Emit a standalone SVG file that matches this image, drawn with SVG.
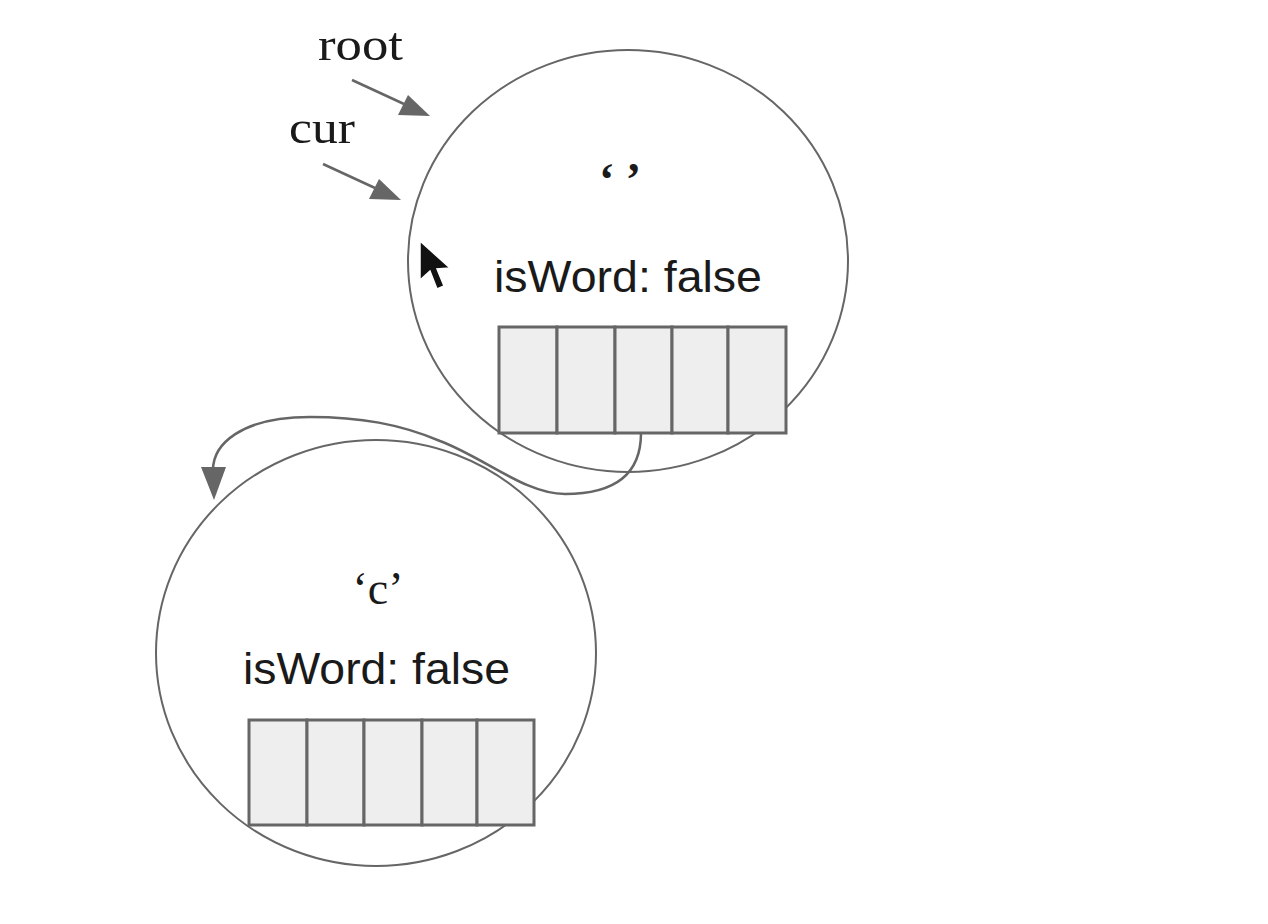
<svg xmlns="http://www.w3.org/2000/svg" width="1268" height="924" viewBox="0 0 1268 924">
<style>
.circ{fill:#fff;stroke:#666;stroke-width:2}
.cell{fill:#eeeeee;stroke:#666;stroke-width:3}
.sans{font-family:"Liberation Sans",Arial,sans-serif;font-size:44px;fill:#1a1a1a}
.serif{font-family:"Liberation Serif","Times New Roman",serif;font-size:46px;fill:#1a1a1a}
.conn{fill:none;stroke:#666;stroke-width:2.5}
</style>
<rect width="1268" height="924" fill="#fff"/>
<g id="node-root">
<ellipse class="circ" cx="628" cy="261" rx="220" ry="211"/>
<text class="serif" x="620" y="195" text-anchor="middle" font-weight="bold">‘ ’</text>
<text class="sans" x="494" y="292" textLength="268" lengthAdjust="spacingAndGlyphs">isWord: false</text>
<rect class="cell" x="499" y="327" width="58" height="106"/>
<rect class="cell" x="557" y="327" width="58" height="106"/>
<rect class="cell" x="615" y="327" width="57" height="106"/>
<rect class="cell" x="672" y="327" width="56" height="106"/>
<rect class="cell" x="728" y="327" width="58" height="106"/>
</g>
<g id="node-c">
<ellipse class="circ" cx="376" cy="653" rx="220" ry="213"/>
<text class="serif" x="378" y="604" text-anchor="middle" font-size="50">‘c’</text>
<text class="sans" x="243" y="684" textLength="267" lengthAdjust="spacingAndGlyphs">isWord: false</text>
<rect class="cell" x="249" y="720" width="58" height="105"/>
<rect class="cell" x="307" y="720" width="57" height="105"/>
<rect class="cell" x="364" y="720" width="58" height="105"/>
<rect class="cell" x="422" y="720" width="55" height="105"/>
<rect class="cell" x="477" y="720" width="57" height="105"/>
</g>
<g id="labels">
<text class="serif" x="318" y="60" textLength="85" lengthAdjust="spacingAndGlyphs">root</text>
<text class="serif" x="289" y="143" textLength="66" lengthAdjust="spacingAndGlyphs">cur</text>
</g>
<g id="connectors">
<line x1="352" y1="80" x2="404" y2="104" class="conn"/>
<path d="M430,116 L398,115 L408,95 z" fill="#666"/>
<line x1="323" y1="164" x2="375" y2="188" class="conn"/>
<path d="M401,200 L369,199 L379,179 z" fill="#666"/>
<path class="conn" d="M641,433 C641,478 610,494 565,494 C525,494 485,458 440,441 C400,424 360,417 310,417 C240,417 213,445 213,470"/>
<path d="M201,467 L226,467 L214,500 z" fill="#666"/>
</g>
<g id="cursor">
<path d="M420,241 L420,280 L430,271 L437,289 L444,286 L437,269 L450,268 z" fill="#111" stroke="#fff" stroke-width="1.5"/>
</g>
</svg>
